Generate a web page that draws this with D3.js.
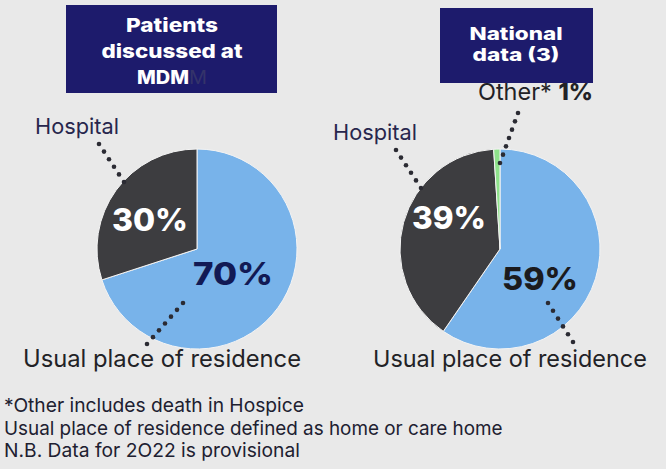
<!DOCTYPE html>
<html><head><meta charset="utf-8">
<script src="https://cdn.jsdelivr.net/npm/d3@7"></script>
<style>
html,body{margin:0;padding:0;background:#e9e9e9;}
svg{display:block;font-family:"Inter","Open Sans",sans-serif;}
</style></head>
<body><svg id="c" width="666" height="469"></svg>
<script>
const categories = ["Usual place of residence","Hospital","Other*"];
const mdmValues = [70, 30, 0];
const nationalValues = [59, 39, 1];
const mdmLabels = ["70%","30%",""];
const nationalLabels = ["59%","39%","1%"];
const titles = [["Patients","discussed at","MDM"],["National","data (3)"]];
const footnotes = ["*Other includes death in Hospice","Usual place of residence defined as home or care home","N.B.  Data for 2O22 is provisional"];

const colors = d3.scaleOrdinal().domain(categories).range(["#78b3ea","#3d3d40","#8ee28b"]);
const svg = d3.select("#c");
const R = 100;
const pie = d3.pie().sort(null).value(d=>d.v);
const arc = d3.arc().innerRadius(0).outerRadius(R);

// scale font size so text spans the target width
function fit(sel, w){
  const fs = +sel.attr("font-size");
  const len = sel.node().getComputedTextLength();
  if(len>0) sel.attr("font-size", fs*w/len);
  return sel;
}
// keep font size, stretch glyphs to the target width
function stretch(sel, w){
  sel.attr("textLength", w).attr("lengthAdjust","spacingAndGlyphs");
  return sel;
}

function dots(g, x1,y1,x2,y2,n){
  const xs = d3.scaleLinear().domain([0,n-1]).range([x1,x2]);
  const ys = d3.scaleLinear().domain([0,n-1]).range([y1,y2]);
  g.selectAll(null).data(d3.range(n)).enter().append("circle")
    .attr("cx",i=>xs(i)).attr("cy",i=>ys(i)).attr("r",2.3).attr("fill","#2b2b33");
}

function drawPie(cx, cy, values, labels){
  const data = categories.map((c,i)=>({c, v: values[i], l: labels[i]})).filter(d=>d.v>0);
  const g = svg.append("g").attr("transform",`translate(${cx},${cy})`);
  g.selectAll("path").data(pie(data)).enter().append("path")
    .attr("d",arc).attr("fill",d=>colors(d.data.c))
    .attr("stroke","#f4f4f4").attr("stroke-width",1);
  return g;
}

drawPie(197, 249, mdmValues, mdmLabels);
drawPie(500, 249, nationalValues, nationalLabels);

function pct(x,y,t,fill,w){
  const s = svg.append("text").attr("x",x).attr("y",y).attr("text-anchor","middle")
    .attr("font-size",31).attr("font-weight",800).attr("fill",fill).text(t);
  stretch(s,w);
}
pct(150, 231, mdmLabels[1], "#ffffff", 76);
pct(233, 285, mdmLabels[0], "#121a55", 80);
pct(449, 229, nationalLabels[1], "#ffffff", 74);
pct(540, 290, nationalLabels[0], "#1b1b1e", 76);

function titleBox(x,y,w,h,lines,cx,firstBase,step,fs,widths){
  svg.append("rect").attr("x",x).attr("y",y).attr("width",w).attr("height",h).attr("fill","#1d1b6c");
  lines.forEach((t,i)=>{
    const tx = svg.append("text").attr("x",cx).attr("y",firstBase+i*step).attr("text-anchor","middle")
      .attr("font-size",fs).attr("font-weight",800).attr("fill","#ffffff");
    tx.append("tspan").text(t);
    if(t==="MDM") tx.append("tspan").attr("fill","#34336a").attr("font-weight",400).text("M");
    stretch(tx, widths[i]);
  });
}
titleBox(66,5,211,88,titles[0],172,31.5,26,19,[92,141,70]);
titleBox(440,8,153,75,titles[1],516,39.5,21.5,18,[93,87]);

function lab(x,y,t,fill,size,w){
  const s = svg.append("text").attr("x",x).attr("y",y).attr("font-size",size).attr("fill",fill).text(t);
  return fit(s,w);
}
lab(35,134,categories[1],"#27264d",21,84);
lab(333,140,categories[1],"#27264d",21,84);
lab(23,367,categories[0],"#222226",22,278);
lab(373,367,categories[0],"#222226",22,274);
const o = svg.append("text").attr("x",478).attr("y",100).attr("font-size",20).attr("fill","#222226");
o.append("tspan").text(categories[2]+" ");
o.append("tspan").attr("font-weight",800).text(nationalLabels[2]);
fit(o,115);

dots(svg, 99,144,124,182,6);
dots(svg, 183,303,147,344,7);
dots(svg, 396,150,421,188,6);
dots(svg, 548,303,573,342,6);
dots(svg, 518,113,500,163,7);

const fw = [300,499,296];
footnotes.forEach((t,i)=>{
  const s = svg.append("text").attr("x",4).attr("y",412+i*22.5).attr("font-size",17).attr("fill","#202030").text(t);
  fit(s, fw[i]);
});
</script></body></html>
